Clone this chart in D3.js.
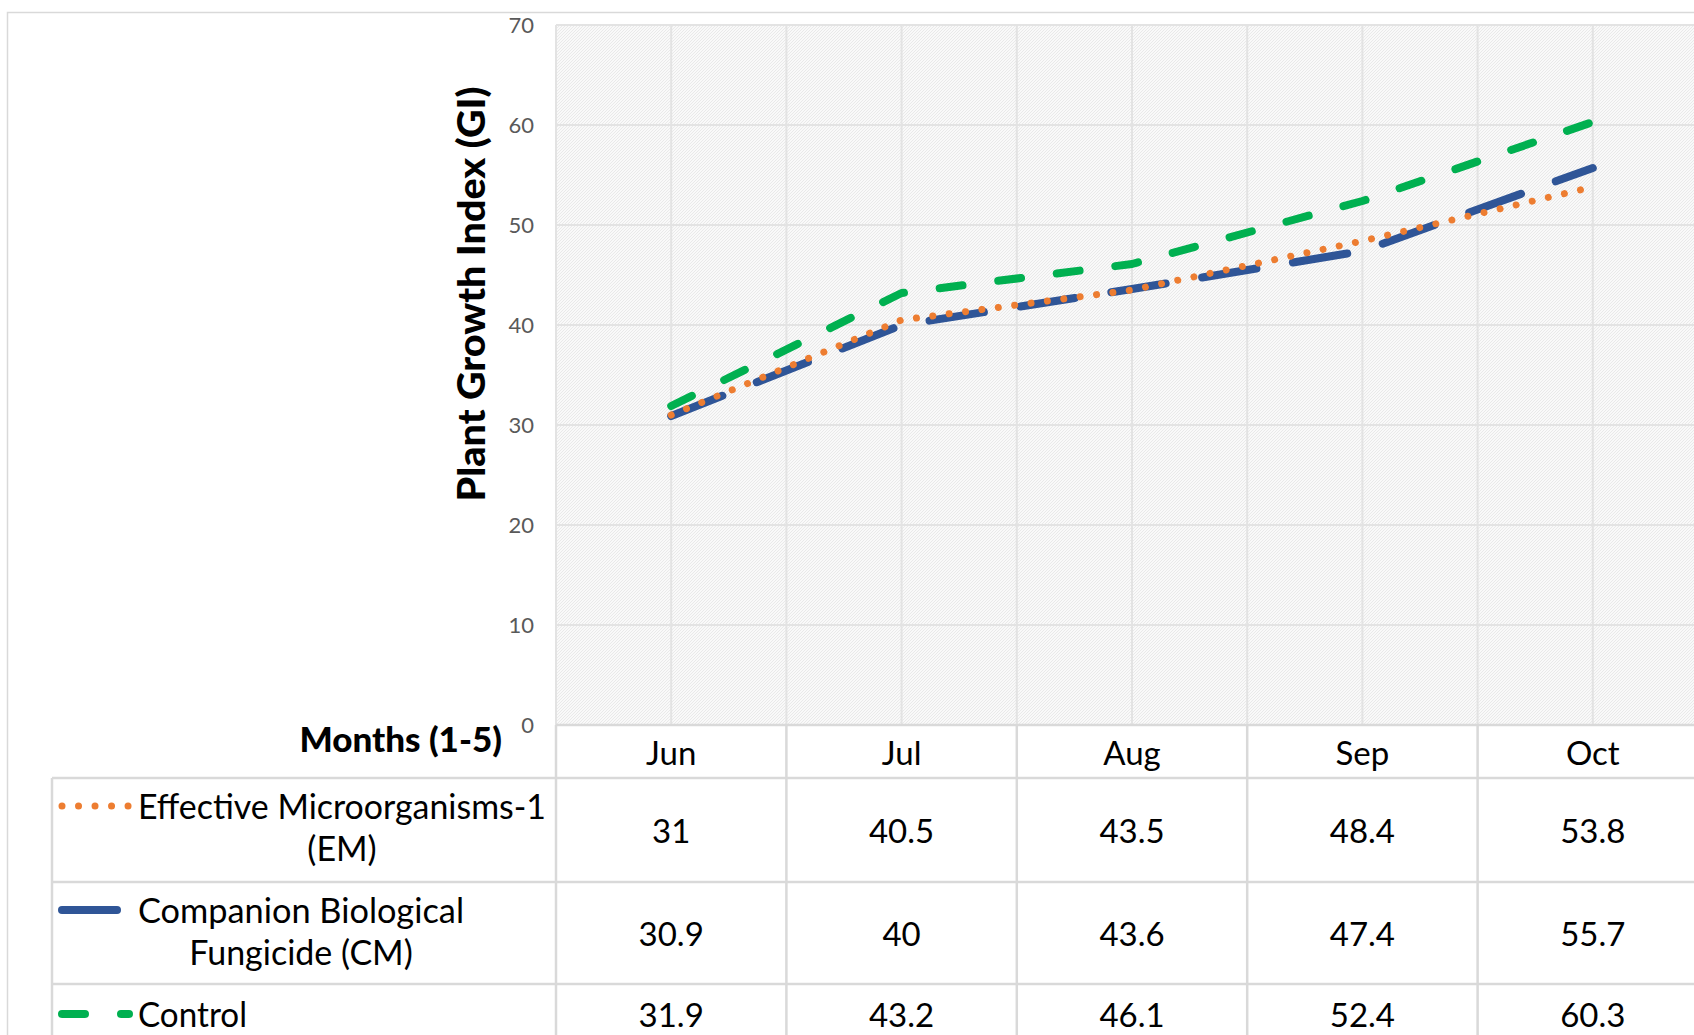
<!DOCTYPE html>
<html>
<head>
<meta charset="utf-8">
<script src="https://cdn.jsdelivr.net/npm/d3@7/dist/d3.min.js"></script>
<style>
  body { margin: 0; background: #fff; }
  text { font-family: Lato, "Open Sans", sans-serif; }
</style>
</head>
<body>
<div id="chart"></div>
<script>
// data
var months = ["Jun", "Jul", "Aug", "Sep", "Oct"];
var emValues = [31, 40.5, 43.5, 48.4, 53.8];
var cmValues = [30.9, 40, 43.6, 47.4, 55.7];
var controlValues = [31.9, 43.2, 46.1, 52.4, 60.3];
var seriesLabels = [
    ["Effective Microorganisms-1", "(EM)"],
    ["Companion Biological", "Fungicide (CM)"],
    ["Control"]
];
var yTicks = [0, 10, 20, 30, 40, 50, 60, 70];

var svgWidth = 1694;
var svgHeight = 1035;

var series = [
    { name: seriesLabels[0], values: emValues, color: "#ED7D31", width: 7, dash: "0.01 16.5" },
    { name: seriesLabels[1], values: cmValues, color: "#2F5597", width: 8, dash: "55 37" },
    { name: seriesLabels[2], values: controlValues, color: "#00B050", width: 8, dash: "23 36" }
];

var svg = d3.select("#chart")
    .append("svg")
    .attr("width", svgWidth)
    .attr("height", svgHeight);

// background hatch used by the plot area
var pat = svg.append("defs").append("pattern")
    .attr("id", "hatch")
    .attr("patternUnits", "userSpaceOnUse")
    .attr("width", 3)
    .attr("height", 3);
pat.append("rect").attr("width", 3).attr("height", 3).attr("fill", "#f9f9f9");
pat.append("path").attr("d", "M0,3 L3,0 M-1,1 L1,-1 M2,4 L4,2")
    .attr("stroke", "#e4e4e4").attr("stroke-width", 0.8);

// chart area border
svg.append("rect")
    .attr("x", 7.5).attr("y", 12.5)
    .attr("width", svgWidth + 20).attr("height", svgHeight + 20)
    .attr("fill", "none")
    .attr("stroke", "#d9d9d9")
    .attr("stroke-width", 1.5);

var x = d3.scaleBand().domain(months).range([556, 1708]);
var y = d3.scaleLinear().domain([0, 70]).range([725, 25]);
var bw = x.bandwidth();

// plot area
svg.append("rect")
    .attr("x", x.range()[0]).attr("y", y(70))
    .attr("width", x.range()[1] - x.range()[0])
    .attr("height", y(0) - y(70))
    .attr("fill", "url(#hatch)");

// gridlines
var grid = svg.append("g");
grid.selectAll(".hg")
    .data(yTicks)
    .enter()
    .append("line")
    .attr("x1", x.range()[0]).attr("x2", x.range()[1])
    .attr("y1", d => y(d)).attr("y2", d => y(d))
    .attr("stroke", "#e3e3e3").attr("stroke-width", 2);

var vlines = [];
months.forEach(function(m) { vlines.push(x(m)); vlines.push(x(m) + bw / 2); });
grid.selectAll(".vg")
    .data(vlines)
    .enter()
    .append("line")
    .attr("x1", d => d).attr("x2", d => d)
    .attr("y1", y(70)).attr("y2", y(0))
    .attr("stroke", "#e3e3e3").attr("stroke-width", 2);

// y axis labels
var leftAxis = d3.axisLeft(y).tickValues(yTicks).tickSize(0).tickPadding(22);
var yAxisG = svg.append("g")
    .attr("transform", `translate(${x.range()[0]},0)`)
    .call(leftAxis);
yAxisG.select(".domain").remove();
yAxisG.selectAll("text")
    .attr("font-family", "Lato, 'Open Sans', sans-serif")
    .attr("font-size", 22)
    .attr("fill", "#595959");

// y axis title
svg.append("text")
    .attr("transform", "translate(485,294) rotate(-90)")
    .attr("text-anchor", "middle")
    .attr("font-weight", 900)
    .attr("font-size", 38)
    .attr("fill", "#000")
    .attr("textLength", 415)
    .attr("lengthAdjust", "spacingAndGlyphs")
    .text("Plant Growth Index (GI)");

// lines
var lineGen = d3.line()
    .x((d, i) => x(months[i]) + bw / 2)
    .y(d => y(d));

var drawOrder = [1, 0, 2];
drawOrder.forEach(function(k) {
    var s = series[k];
    svg.append("path")
        .datum(s.values)
        .attr("d", lineGen)
        .attr("fill", "none")
        .attr("stroke", s.color)
        .attr("stroke-width", s.width)
        .attr("stroke-linecap", "round")
        .attr("stroke-linejoin", "round")
        .attr("stroke-dasharray", s.dash);
});

// data table
var headerTop = y(0);
var headerBottom = 778;
var rowTops = [778, 882, 984];
var tableLeft = 52;
var tbl = svg.append("g");
var lineColor = "#d9d9d9";

tbl.append("line")
    .attr("x1", x.range()[0]).attr("x2", svgWidth + 20)
    .attr("y1", headerTop).attr("y2", headerTop)
    .attr("stroke", lineColor).attr("stroke-width", 2.5);
tbl.selectAll(".rl")
    .data(rowTops)
    .enter()
    .append("line")
    .attr("x1", tableLeft).attr("x2", svgWidth + 20)
    .attr("y1", d => d).attr("y2", d => d)
    .attr("stroke", lineColor).attr("stroke-width", 2.5);
tbl.append("line")
    .attr("x1", tableLeft).attr("x2", tableLeft)
    .attr("y1", headerBottom).attr("y2", svgHeight + 20)
    .attr("stroke", lineColor).attr("stroke-width", 2.5);
tbl.selectAll(".cl")
    .data(months)
    .enter()
    .append("line")
    .attr("x1", d => x(d)).attr("x2", d => x(d))
    .attr("y1", headerTop).attr("y2", svgHeight + 20)
    .attr("stroke", lineColor).attr("stroke-width", 2.5);

// month labels
var bottomAxis = d3.axisBottom(x).tickSize(0);
var xAxisG = svg.append("g")
    .attr("transform", `translate(0,${headerTop})`)
    .call(bottomAxis);
xAxisG.select(".domain").remove();
xAxisG.selectAll("text")
    .attr("font-family", "Lato, 'Open Sans', sans-serif")
    .attr("font-size", 33)
    .attr("fill", "#000")
    .attr("y", 40)
    .attr("dy", 0);

svg.append("text")
    .attr("x", 502).attr("y", 752)
    .attr("text-anchor", "end")
    .attr("font-weight", 900)
    .attr("font-size", 35)
    .attr("fill", "#000")
    .text("Months (1-5)");

// values
var valueBaselines = [843, 946, 1027];
series.forEach(function(s, k) {
    svg.selectAll(null)
        .data(s.values)
        .enter()
        .append("text")
        .attr("x", (d, i) => x(months[i]) + bw / 2)
        .attr("y", valueBaselines[k])
        .attr("text-anchor", "middle")
        .attr("font-size", 33)
        .attr("fill", "#000")
        .text(d => d);
});

// legend keys + row labels
var labelBaselines = [[819, 861], [923, 965], [1027]];
var labelWidths = [408, 326, 109];
var labelLeft = 138;
series.forEach(function(s, k) {
    var ky = labelBaselines[k][0] - 13;
    svg.append("line")
        .attr("x1", 62).attr("x2", 129)
        .attr("y1", ky).attr("y2", ky)
        .attr("stroke", s.color)
        .attr("stroke-width", s.width)
        .attr("stroke-linecap", "round")
        .attr("stroke-dasharray", s.dash);

    var cx = labelLeft + labelWidths[k] / 2;
    s.name.forEach(function(t, j) {
        var txt = svg.append("text")
            .attr("x", cx)
            .attr("y", labelBaselines[k][j])
            .attr("text-anchor", "middle")
            .attr("font-size", 34)
            .attr("fill", "#000")
            .text(t);
        if (j === 0) {
            txt.attr("textLength", labelWidths[k]).attr("lengthAdjust", "spacingAndGlyphs");
        }
    });
});
</script>
</body>
</html>
